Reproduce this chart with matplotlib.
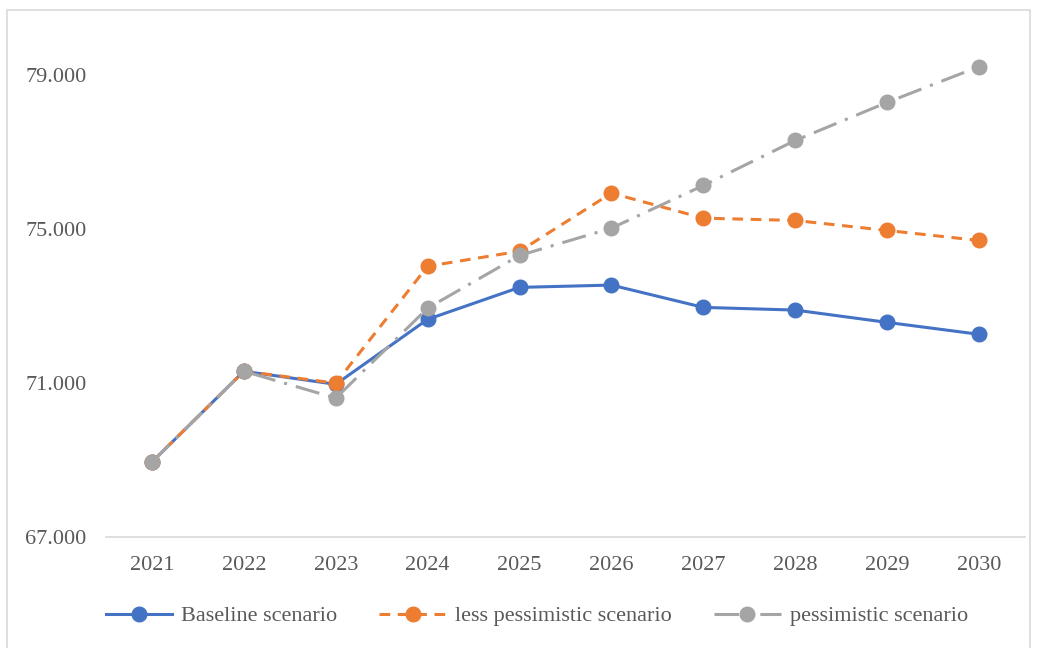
import matplotlib.pyplot as plt
from matplotlib.patches import Rectangle

years = ['2021', '2022', '2023', '2024', '2025', '2026', '2027', '2028', '2029', '2030']
baseline = [68.95, 71.31, 70.97, 72.66, 73.49, 73.55, 72.97, 72.90, 72.58, 72.27]
less_pessimistic = [68.95, 71.31, 71.00, 74.04, 74.43, 75.94, 75.29, 75.23, 74.97, 74.71]
pessimistic = [68.95, 71.31, 70.61, 72.95, 74.32, 75.03, 76.14, 77.31, 78.30, 79.23]
y_ticks = [67, 71, 75, 79]

plt.rcParams['font.family'] = ['Liberation Serif', 'DejaVu Serif']
text_color = '#595959'

fig = plt.figure(figsize=(10.4, 6.48), dpi=100)
fig.patches.append(Rectangle((7 / 1040, -0.01), 1023 / 1040, 1 - 10 / 648 + 0.01,
                             transform=fig.transFigure, fill=False,
                             edgecolor='#d9d9d9', linewidth=1.2))
ax = fig.add_axes([106 / 1040, 1 - 537 / 648, 919 / 1040, 500 / 648])

x = range(len(years))
lw = 2.2
ms = 10.5
ax.plot(x, baseline, color='#4472C4', lw=lw, marker='o', ms=ms,
        label='Baseline scenario', zorder=3)
ax.plot(x, less_pessimistic, color='#ED7D31', lw=lw, marker='o', ms=ms,
        dashes=(3.5, 2.5), label='less pessimistic scenario', zorder=4)
ax.plot(x, pessimistic, color='#A5A5A5', lw=lw, marker='o', ms=ms,
        dashes=(8, 3, 1, 3), label='pessimistic scenario', zorder=5)

ax.set_xlim(-0.5, len(years) - 0.5)
ax.set_ylim(67, 80)
ax.set_xticks(list(x))
ax.set_xticklabels(years)
ax.set_yticks(y_ticks)
ax.set_yticklabels([f'{v}.000' for v in y_ticks])
ax.tick_params(axis='both', length=0, labelsize=16, colors=text_color)
ax.tick_params(axis='x', pad=14)
ax.tick_params(axis='y', pad=14)
for side in ['top', 'right', 'left']:
    ax.spines[side].set_visible(False)
ax.spines['bottom'].set_color('#d9d9d9')
ax.spines['bottom'].set_linewidth(1.2)

leg = fig.legend(loc='center', bbox_to_anchor=(0.516, 1 - 616 / 648), ncol=3,
                 frameon=False, fontsize=16, handlelength=3.0,
                 handletextpad=0.4, columnspacing=1.9)
for t in leg.get_texts():
    t.set_color(text_color)

fig.savefig('out.png', dpi=100)
